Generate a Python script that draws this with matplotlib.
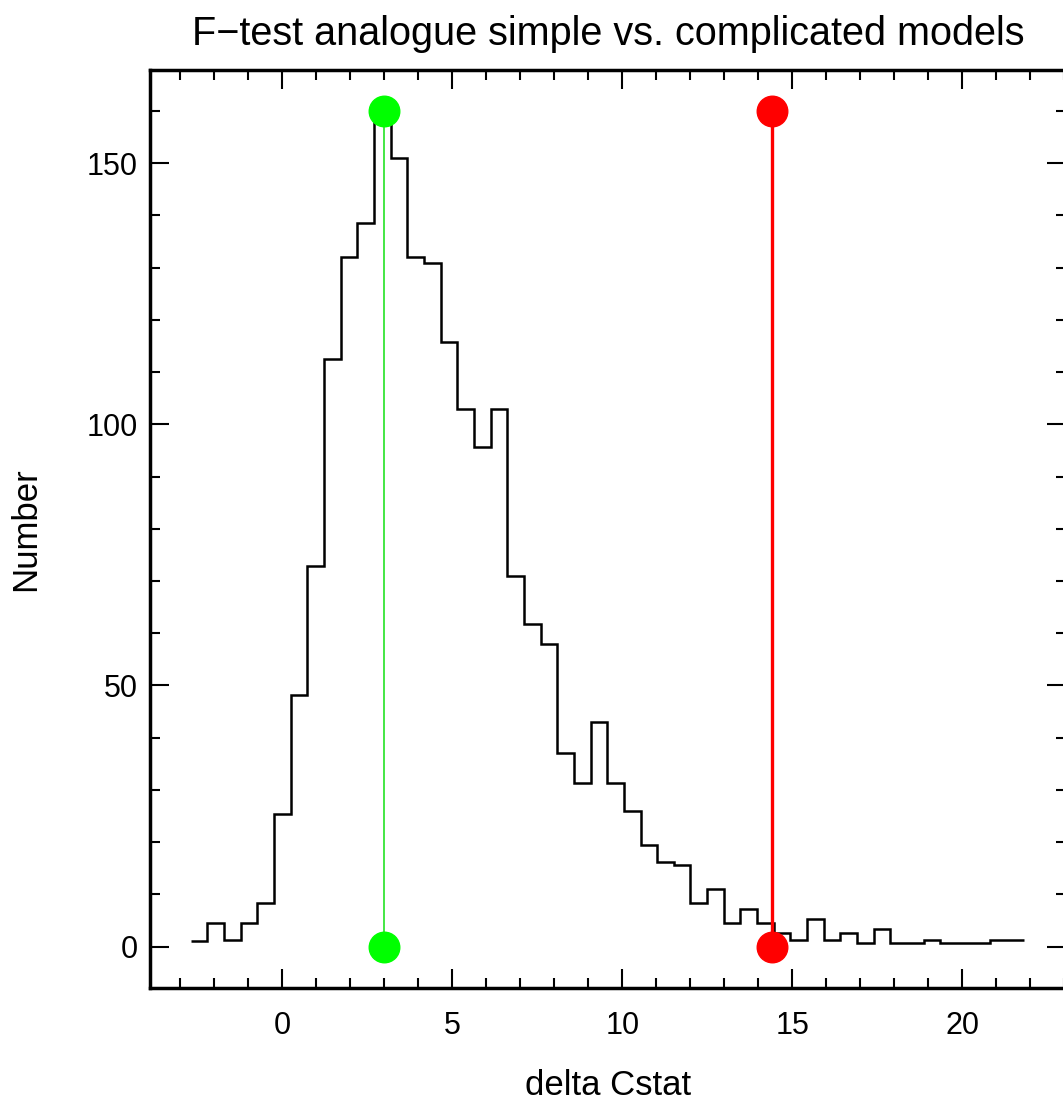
import numpy as np
import matplotlib
matplotlib.use("Agg")
import matplotlib.pyplot as plt
from matplotlib.ticker import MultipleLocator

plt.rcParams['font.family'] = ['Liberation Sans', 'DejaVu Sans']

# histogram of delta Cstat from simulations (50 bins)
bin_edges = np.linspace(-2.7, 21.8, 51)
counts = [1.0, 4.6, 1.3, 4.6, 8.4, 25.4, 48.2, 72.9, 112.5, 132.1,
          138.6, 160.0, 150.9, 132.1, 130.8, 115.8, 102.9, 95.7, 102.9, 71.0,
          61.8, 58.0, 37.1, 31.3, 43.0, 31.3, 26.0, 19.5, 16.3, 15.6,
          8.4, 11.1, 4.5, 7.2, 4.5, 2.6, 1.3, 5.3, 1.3, 2.6,
          0.7, 3.3, 0.7, 0.7, 1.2, 0.7, 0.7, 0.7, 1.2, 1.2]

# observed values: simple model (green) and complicated model (red)
green_x = 3.0
red_x = 14.4
line_y = [0, 160]

fig = plt.figure(figsize=(10.63, 11.03), dpi=100)
ax = fig.add_axes([0.141, 0.1045, 0.862, 0.832])

ax.stairs(counts, bin_edges, color='black', lw=1.8, baseline=None)
ax.plot([green_x, green_x], line_y, color='#11e011', lw=1.1, marker='o',
        ms=22, mfc='#00ff00', mec='#00ff00', clip_on=False)
ax.plot([red_x, red_x], line_y, color='#ff0000', lw=2.4, marker='o',
        ms=22, mfc='#ff0000', mec='#ff0000', clip_on=False)

ax.set_xlim(-3.9, 23.05)
ax.set_ylim(-7.85, 167.8)
ax.xaxis.set_major_locator(MultipleLocator(5))
ax.xaxis.set_minor_locator(MultipleLocator(1))
ax.yaxis.set_major_locator(MultipleLocator(50))
ax.yaxis.set_minor_locator(MultipleLocator(10))
ax.tick_params(which='both', direction='in', top=True, right=True,
               labelsize=22, width=1.5)
ax.tick_params(which='major', length=14)
ax.tick_params(which='minor', length=7)
ax.tick_params(axis='x', which='major', pad=17)
ax.tick_params(axis='y', which='major', pad=9)
for s in ax.spines.values():
    s.set_linewidth(2.5)

ax.set_xlabel('delta Cstat', fontsize=25, labelpad=20)
ax.set_ylabel('Number', fontsize=25, labelpad=32)
ax.set_title('F\u2212test analogue simple vs. complicated models', fontsize=28.5, pad=18)

fig.savefig('out.png', dpi=100)
